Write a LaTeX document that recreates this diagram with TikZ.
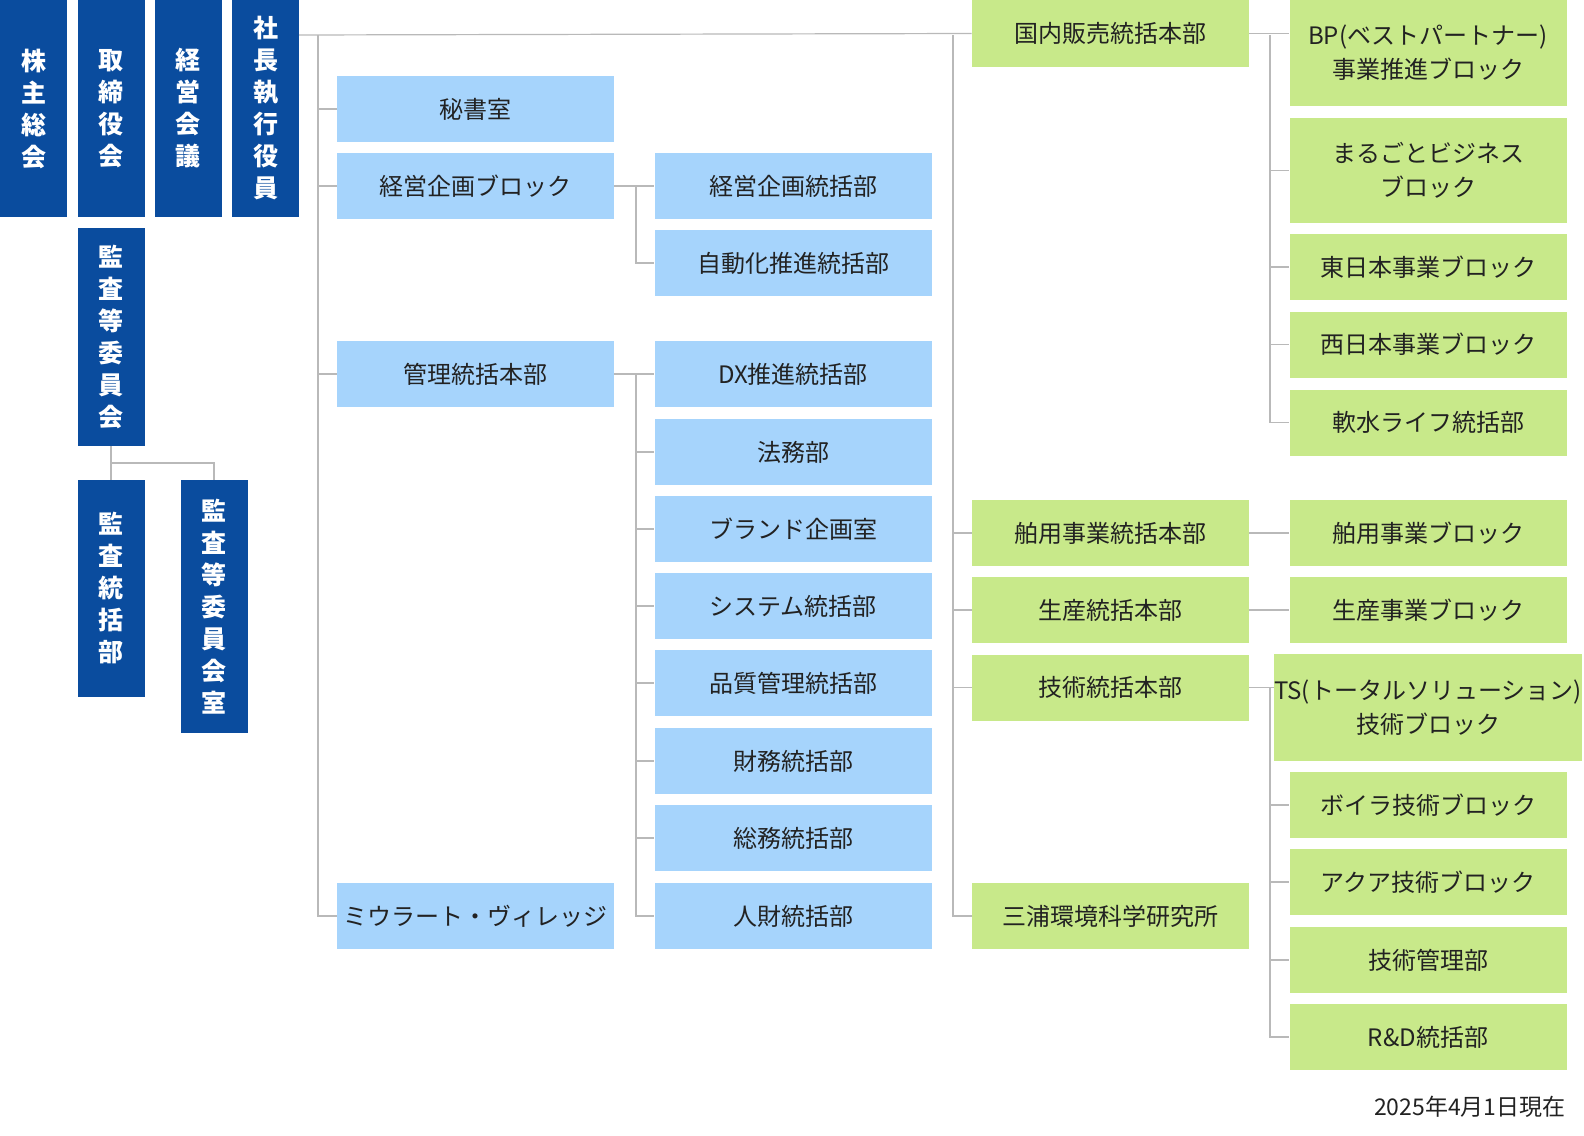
\documentclass[tikz,border=0pt]{standalone}
\usepackage{fontspec}
\setmainfont{Noto Sans CJK JP}
\usetikzlibrary{positioning}
\definecolor{navy}{HTML}{0A4C9E}
\definecolor{sky}{HTML}{A6D4FC}
\definecolor{leaf}{HTML}{C8E98A}
\definecolor{ink}{HTML}{222222}
\tikzset{
  darkbox/.style={fill=navy, text=white, font=\bfseries\fontsize{12.5}{16}\selectfont, align=center, minimum width=33.5pt, inner sep=0pt},
  bluebox/.style={fill=sky, text=ink, font=\fontsize{12}{15}\selectfont, align=center, minimum width=138.5pt, minimum height=33pt, inner sep=0pt},
  greenbox/.style={fill=leaf, text=ink, font=\fontsize{12}{17}\selectfont, align=center, minimum width=138.5pt, minimum height=33pt, inner sep=0pt},
  link/.style={draw=gray!55, line width=0.6pt}
}
\begin{document}
\begin{tikzpicture}[x=0.5pt, y=-0.5pt]
\useasboundingbox (0,0) rectangle (1584,1135);

% board
\node[darkbox, minimum height=108.5pt] (kabu) at (33.5,108.5) {株\\主\\総\\会};
\node[darkbox, minimum height=108.5pt] (torishimari) at (111,108.5) {取\\締\\役\\会};
\node[darkbox, minimum height=108.5pt] (keiei) at (188,108.5) {経\\営\\会\\議};
\node[darkbox, minimum height=108.5pt] (shacho) at (265.5,108.5) {社\\長\\執\\行\\役\\員};
\node[darkbox, minimum height=109pt] (kansa) at (111,337) {監\\査\\等\\委\\員\\会};
\node[darkbox, minimum height=108.5pt] (kansabu) at (111,588.5) {監\\査\\統\\括\\部};
\node[darkbox, minimum height=126.5pt] (kansashitsu) at (214,606.5) {監\\査\\等\\委\\員\\会\\室};

% column 2
\node[bluebox] (hisho) at (475.5,109) {秘書室};
\node[bluebox] (kikaku) at (475.5,186) {経営企画ブロック};
\node[bluebox] (kanri) at (475.5,374) {管理統括本部};
\node[bluebox] (village) at (475.5,916) {ミウラート・ヴィレッジ};

% column 3
\node[bluebox] (kikakubu) at (793,186) {経営企画統括部};
\node[bluebox] (jidoka) at (793,263) {自動化推進統括部};
\node[bluebox] (dx) at (793,374) {DX推進統括部};
\node[bluebox] (homu) at (793,452) {法務部};
\node[bluebox] (brand) at (793,529) {ブランド企画室};
\node[bluebox] (system) at (793,606) {システム統括部};
\node[bluebox] (hinshitsu) at (793,683) {品質管理統括部};
\node[bluebox] (zaimu) at (793,761) {財務統括部};
\node[bluebox] (somu) at (793,838) {総務統括部};
\node[bluebox] (jinzai) at (793,916) {人財統括部};

% column 4
\node[greenbox] (kokunai) at (1110.5,33.5) {国内販売統括本部};
\node[greenbox] (hakuyo) at (1110.5,533) {舶用事業統括本部};
\node[greenbox] (seisan) at (1110.5,610) {生産統括本部};
\node[greenbox] (gijutsu) at (1110.5,687.5) {技術統括本部};
\node[greenbox] (kankyo) at (1110.5,916) {三浦環境科学研究所};

% column 5
\node[greenbox, minimum height=53pt] (bp) at (1428,53) {BP(ベストパートナー)\\事業推進ブロック};
\node[greenbox, minimum height=52.5pt] (marugoto) at (1428,170.5) {まるごとビジネス\\ブロック};
\node[greenbox] (higashi) at (1428,267) {東日本事業ブロック};
\node[greenbox] (nishi) at (1428,344.5) {西日本事業ブロック};
\node[greenbox] (nansui) at (1428,422.5) {軟水ライフ統括部};
\node[greenbox] (hakuyob) at (1428,533) {舶用事業ブロック};
\node[greenbox] (seisanb) at (1428,610) {生産事業ブロック};
\node[greenbox, minimum height=53.5pt] (ts) at (1428,707.5) {TS(トータルソリューション)\\技術ブロック};
\node[greenbox] (boira) at (1428,805) {ボイラ技術ブロック};
\node[greenbox] (aqua) at (1428,882) {アクア技術ブロック};
\node[greenbox] (gkanri) at (1428,960) {技術管理部};
\node[greenbox] (rd) at (1428,1037) {R\&D統括部};

\node[font=\fontsize{11.5}{14}\selectfont, text=ink, anchor=east, inner sep=0pt] (date) at (1566,1107) {2025年4月1日現在};

% audit links
\draw[link] (kansa.south) -- (kansabu.north);
\draw[link] (kansa.south) |- (214,463) -- (kansashitsu.north);

% trunk
\coordinate (trunk) at (318,35);
\draw[link] (299,35) -- (kokunai.west);
\draw[link] (trunk) |- (village.west);
\foreach \n in {hisho, kikaku, kanri}
  \draw[link] (trunk) |- (\n.west);

% planning block
\draw[link] (kikaku.east) -- (kikakubu.west);
\draw[link] (636,186) |- (jidoka.west);

% admin block
\draw[link] (kanri.east) -- (dx.west);
\foreach \n in {homu, brand, system, hinshitsu, zaimu, somu, jinzai}
  \draw[link] (636,374) |- (\n.west);

% business divisions
\foreach \n in {hakuyo, seisan, gijutsu, kankyo}
  \draw[link] (953,35) |- (\n.west);

% domestic sales
\draw[link] (kokunai.east) -- (bp.west |- kokunai.east);
\foreach \n in {marugoto, higashi, nishi, nansui}
  \draw[link] (1270,35) |- (\n.west);

\draw[link] (hakuyo.east) -- (hakuyob.west);
\draw[link] (seisan.east) -- (seisanb.west);

% technology
\draw[link] (gijutsu.east) -- (ts.west |- gijutsu.east);
\foreach \n in {boira, aqua, gkanri, rd}
  \draw[link] (1270,687.5) |- (\n.west);
\end{tikzpicture}
\end{document}
